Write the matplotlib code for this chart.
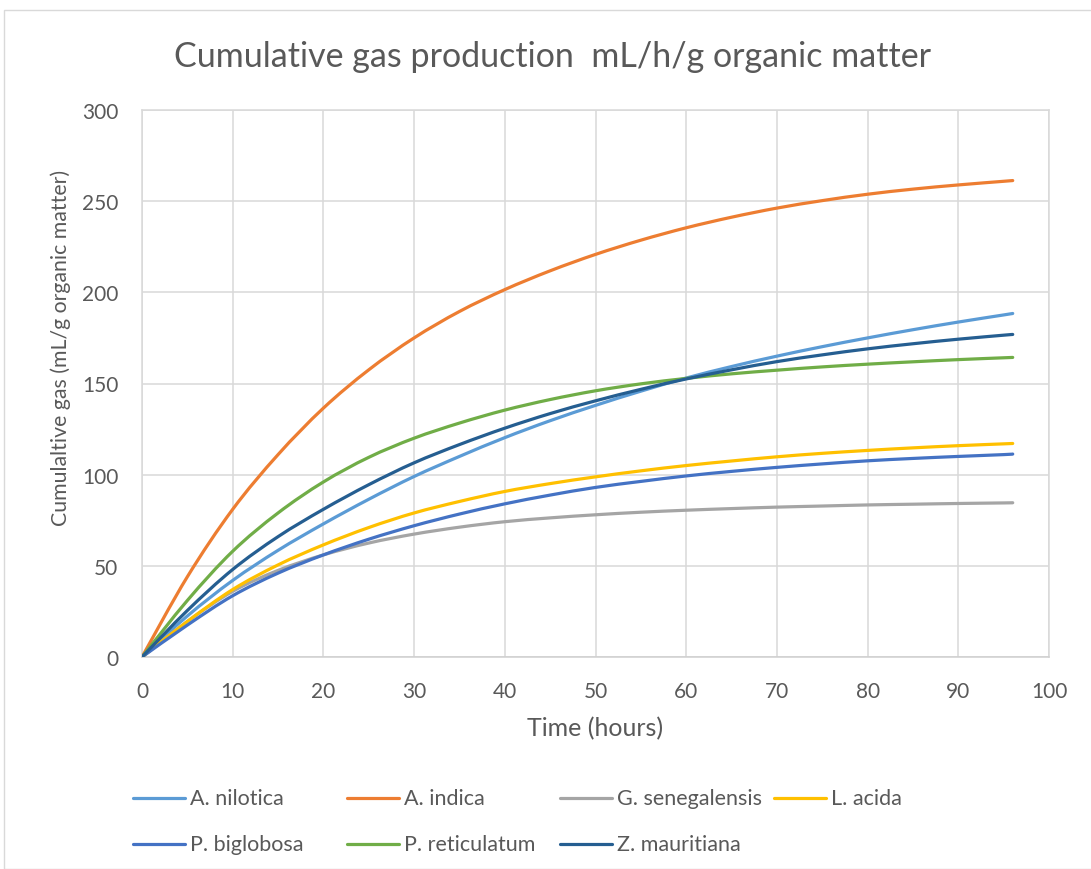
import matplotlib
matplotlib.use("Agg")
import matplotlib.pyplot as plt
import numpy as np
from matplotlib.lines import Line2D
from matplotlib.patches import Rectangle, PathPatch
from matplotlib.path import Path

plt.rcParams['font.family'] = ['Lato', 'DejaVu Sans']

# Incubation time (hours)
hours = [0, 5, 10, 15, 20, 25, 30, 35, 40, 45, 50, 55, 60, 65, 70, 75, 80, 85, 90, 95, 96]

# Cumulative gas (mL/g organic matter)
a_nilotica = [0, 22.5, 42, 58.5, 73, 86.5, 99, 110, 120.3, 129.6, 138, 145.8, 153, 159.3, 165, 170.2, 175, 179.5, 183.7, 187.6, 188.4]
a_indica = [0, 44, 81, 111, 136.5, 157.5, 175, 189.5, 201.5, 211.8, 220.8, 228.6, 235.4, 241.2, 246.2, 250.3, 253.8, 256.6, 258.9, 260.9, 261.3]
g_senegalensis = [0, 19.5, 36, 47.5, 56, 62.5, 67.4, 71.2, 74.2, 76.3, 78, 79.4, 80.5, 81.4, 82.2, 82.8, 83.4, 83.8, 84.2, 84.5, 84.6]
l_acida = [0, 19.5, 37, 50.5, 61.5, 71, 79, 85.3, 90.8, 95.1, 98.8, 102.1, 105, 107.5, 109.8, 111.7, 113.3, 114.7, 115.9, 116.9, 117.1]
p_biglobosa = [0, 17.5, 33.6, 46, 56, 64.6, 72, 78.4, 84, 88.8, 93, 96.3, 99.3, 101.8, 104, 105.9, 107.6, 108.9, 110, 111, 111.3]
p_reticulatum = [0, 31, 58, 79, 96, 109.5, 120, 128.3, 135.4, 141.2, 146, 149.8, 152.8, 155.3, 157.3, 159.1, 160.6, 161.9, 163.1, 164.1, 164.3]
z_mauritiana = [0, 25.5, 48, 66, 81, 94.5, 106.5, 116.5, 125.5, 133.5, 140.5, 146.8, 152.5, 157.5, 162, 165.7, 169, 171.8, 174.3, 176.5, 176.9]

species = ["A. nilotica", "A. indica", "G. senegalensis", "L. acida",
           "P. biglobosa", "P. reticulatum", "Z. mauritiana"]
series = [a_nilotica, a_indica, g_senegalensis, l_acida,
          p_biglobosa, p_reticulatum, z_mauritiana]
colors = ["#5B9BD5", "#ED7D31", "#A5A5A5", "#FFC000",
          "#4472C4", "#70AD47", "#255E91"]

x_ticks = [0, 10, 20, 30, 40, 50, 60, 70, 80, 90, 100]
y_ticks = [0, 50, 100, 150, 200, 250, 300]

TXT = "#595959"
GRID = "#d9d9d9"
W, H = 1091, 870


def smooth_path(x, y):
    """Smoothed line through the points (Catmull-Rom as cubic Bezier segments)."""
    p = np.column_stack([x, y]).astype(float)
    n = len(p)
    verts = [p[0]]
    codes = [Path.MOVETO]
    for i in range(n - 1):
        p0 = p[i - 1] if i > 0 else p[i]
        p1, p2 = p[i], p[i + 1]
        p3 = p[i + 2] if i + 2 < n else p[i + 1]
        c1 = p1 + (p2 - p0) / 6.0
        c2 = p2 - (p3 - p1) / 6.0
        verts += [c1, c2, p2]
        codes += [Path.CURVE4] * 3
    return Path(verts, codes)


fig = plt.figure(figsize=(W / 100, H / 100), dpi=100)

# chart border
fig.patches.append(Rectangle((4 / W, 0), 1.2, 1 - 11 / H, transform=fig.transFigure,
                             fill=False, edgecolor=GRID, lw=1.0))

ax = fig.add_axes([142 / W, 1 - 658 / H, (1049 - 142) / W, (658 - 111) / H])

for name, vals, c in zip(species, series, colors):
    ax.add_patch(PathPatch(smooth_path(hours, vals), facecolor='none', edgecolor=c,
                           lw=2.3, capstyle='round', joinstyle='round', zorder=3))

ax.set_xlim(0, 100)
ax.set_ylim(0, 300)
ax.set_xticks(x_ticks)
ax.set_yticks(y_ticks)
ax.grid(True, color=GRID, lw=1.1, zorder=0)
for s in ax.spines.values():
    s.set_color(GRID)
    s.set_linewidth(1.1)
ax.spines['bottom'].set_color("#cfcfcf")
ax.tick_params(length=0, labelsize=15, labelcolor=TXT)
ax.tick_params(axis='x', pad=17)
ax.tick_params(axis='y', pad=17)

fig.text(552 / W, 1 - 57 / H, "Cumulative gas production  mL/h/g organic matter",
         ha='center', va='center', fontsize=24.5, color=TXT)
fig.text(595 / W, 1 - 729 / H, "Time (hours)", ha='center', va='center',
         fontsize=18, color=TXT)
fig.text(61 / W, 1 - 348 / H, "Cumulaltive gas (mL/g organic matter)", ha='center',
         va='center', rotation=90, fontsize=15.3, color=TXT)

# legend laid out row by row in four equal columns
col_x = [133, 347, 560, 774]
row_y = [799, 845]
for i, (name, c) in enumerate(zip(species, colors)):
    r, k = divmod(i, 4)
    x0 = col_x[k]
    y0 = 1 - row_y[r] / H
    fig.add_artist(Line2D([x0 / W, (x0 + 52) / W], [y0, y0], color=c, lw=2.3,
                          solid_capstyle='round', transform=fig.transFigure))
    fig.text((x0 + 57) / W, y0, name, ha='left', va='center', fontsize=15.5, color=TXT)

fig.savefig("out.png", dpi=100, facecolor='white')
